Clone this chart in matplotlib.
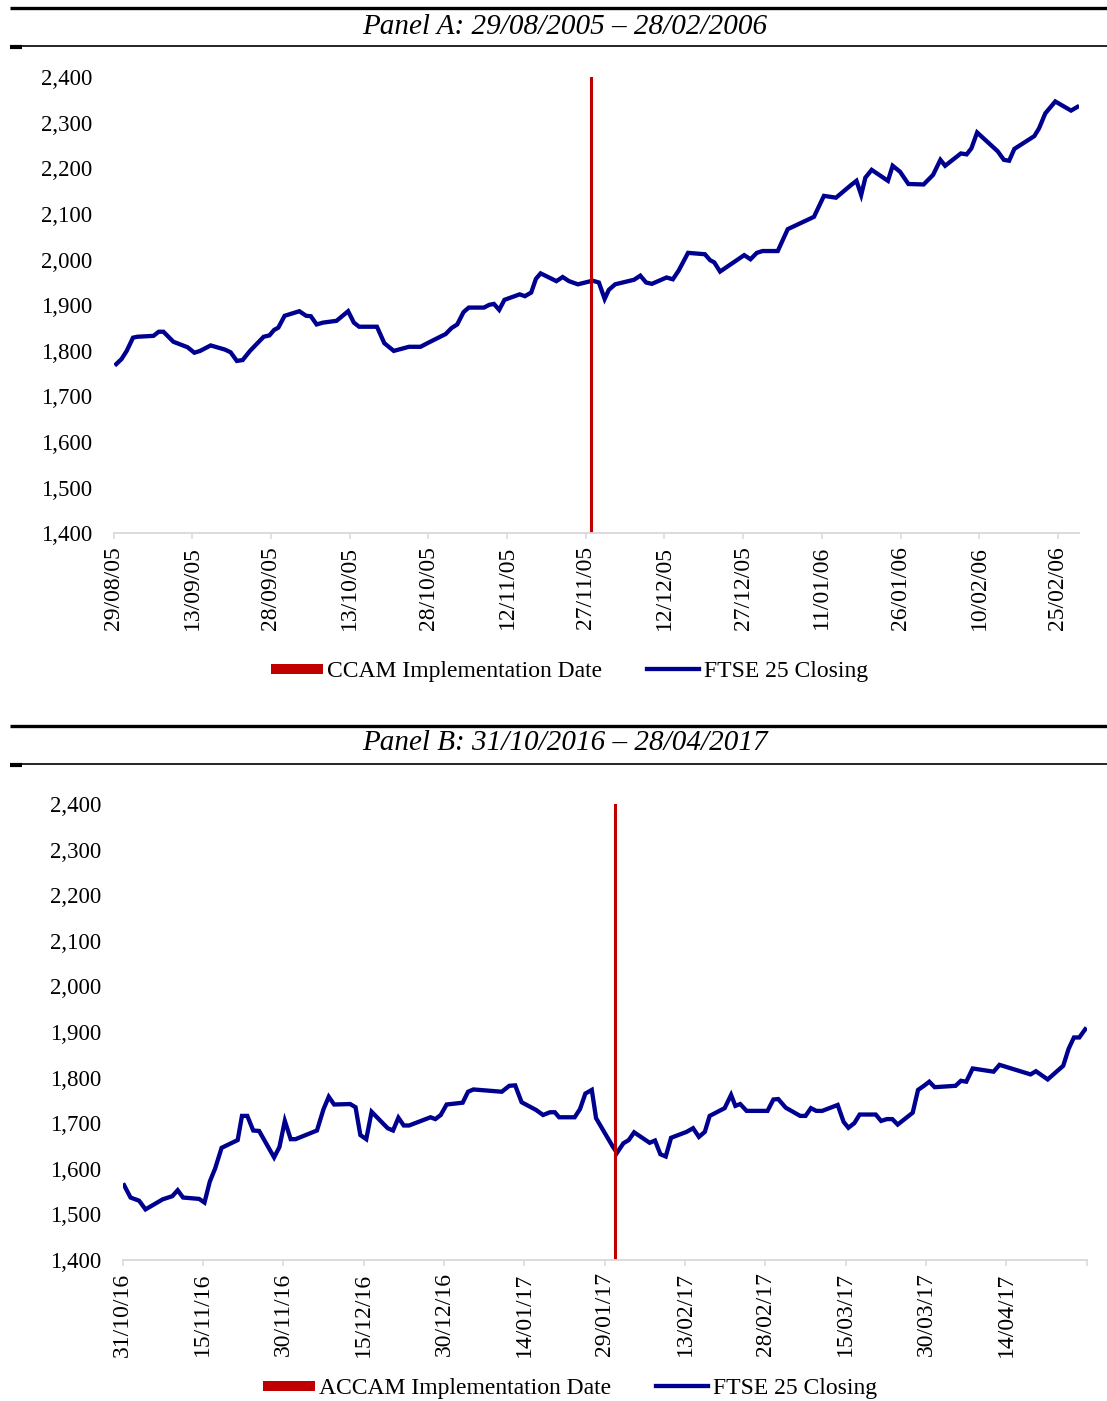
import matplotlib
matplotlib.use("Agg")
import matplotlib.pyplot as plt
import matplotlib.dates as mdates
from matplotlib.lines import Line2D
from matplotlib.ticker import FuncFormatter
import pandas as pd

plt.rcParams['font.family'] = ['Liberation Serif', 'DejaVu Serif']

# Panel A: days since 29/08/2005 and FTSE 25 closing values
start_a = '2005-08-29'
days_a = [0.5, 1.5, 2.5, 3.7, 4.5, 7.6, 8.6, 9.5, 11.4, 14.1, 15.4, 16.5, 18.5, 21.2,
          22.3, 23.5, 24.6, 26.0, 28.6, 29.7, 30.6, 31.4, 32.6, 35.4, 36.7, 37.6, 38.7,
          39.9, 42.5, 44.7, 45.8, 46.8, 50.2, 51.6, 53.4, 56.3, 58.5, 60.0, 63.3, 64.4,
          65.5, 66.7, 67.7, 70.6, 71.6, 72.5, 73.5, 74.5, 77.4, 78.4, 79.6, 80.5, 81.4,
          84.4, 85.6, 86.8, 88.5, 91.3, 92.5, 93.6, 94.4, 95.6, 99.2, 100.4, 101.5, 102.6,
          105.4, 106.6, 107.7, 109.5, 112.7, 113.7, 114.5, 115.6, 120.2, 121.4, 122.6,
          123.7, 126.6, 128.5, 133.5, 135.4, 137.7, 140.6, 141.6, 142.5, 143.3, 144.5,
          147.6, 148.5, 149.9, 151.5, 154.4, 156.2, 157.6, 158.5, 161.5, 162.6, 163.5,
          164.6, 168.5, 169.7, 170.7, 171.7, 175.5, 176.4, 177.6, 179.5, 182.5, 183.7]
close_a = [1771, 1782, 1800, 1829, 1831, 1833, 1842, 1842, 1820, 1808, 1796, 1800, 1812, 1803,
           1797, 1778, 1780, 1800, 1831, 1834, 1846, 1851, 1877, 1887, 1877, 1876, 1858,
           1862, 1866, 1887, 1862, 1853, 1853, 1817, 1800, 1809, 1809, 1818, 1837, 1850,
           1858, 1885, 1895, 1895, 1901, 1903, 1890, 1912, 1924, 1920, 1928, 1958, 1970,
           1953, 1962, 1953, 1946, 1954, 1950, 1914, 1934, 1946, 1956, 1965, 1950, 1947,
           1961, 1957, 1976, 2015, 2012, 1999, 1994, 1974, 2010, 2001, 2015,
           2019, 2019, 2067, 2094, 2140, 2136, 2164, 2173, 2142, 2180, 2197,
           2173, 2206, 2193, 2166, 2165, 2186, 2219, 2206, 2233, 2231, 2244,
           2279, 2238, 2219, 2217, 2243, 2271, 2288, 2321, 2347, 2327, 2335]
event_a = '2005-11-28'

# Panel B: days since 31/10/2016 and FTSE 25 closing values
start_b = '2016-10-31'
days_b = [0.3, 1.5, 3.1, 4.3, 7.5, 9.3, 10.3, 11.3, 14.3, 15.3, 16.3, 17.3, 18.5, 21.5,
          22.3, 23.3, 24.4, 25.5, 28.3, 29.3, 30.3, 31.4, 32.3, 36.3, 37.5, 38.5, 39.5,
          42.5, 43.5, 44.4, 45.5, 46.5, 49.5, 50.5, 51.5, 52.5, 53.5, 57.5, 58.4, 59.4,
          60.5, 63.5, 64.5, 65.5, 70.8, 72.2, 73.3, 74.5, 77.2, 78.5, 79.8, 80.7, 81.5,
          84.4, 85.4, 86.4, 87.6, 88.4, 91.5, 92.3, 93.5, 94.5, 95.5, 98.4, 99.4, 100.4,
          101.4, 102.4, 105.3, 106.5, 107.6, 108.7, 109.6, 112.4, 113.6, 114.4, 115.3,
          116.5, 120.4, 121.5, 122.4, 123.8, 126.5, 127.5, 128.5, 129.5, 130.6, 133.5,
          134.6, 135.5, 136.6, 137.6, 140.6, 141.6, 142.7, 143.7, 144.7, 147.5, 148.5,
          149.6, 150.6, 151.6, 155.5, 156.5, 157.5, 158.7, 162.6, 163.7, 169.5, 170.5,
          172.7, 175.6, 176.6, 177.6, 178.6, 179.7]
close_b = [1564, 1537, 1530, 1511, 1533, 1540, 1553, 1537, 1534, 1526, 1572, 1601, 1646, 1663,
           1716, 1716, 1684, 1683, 1625, 1648, 1705, 1665, 1665, 1684, 1730, 1758, 1741,
           1742, 1735, 1674, 1665, 1725, 1689, 1684, 1712, 1695, 1695, 1713, 1709, 1718,
           1741, 1745, 1769, 1774, 1769, 1782, 1783, 1746, 1729, 1718, 1724, 1724, 1713,
           1713, 1731, 1765, 1773, 1711, 1649, 1635, 1656, 1663, 1680, 1657, 1662, 1632,
           1627, 1668, 1681, 1689, 1670, 1681, 1716, 1733, 1762, 1738, 1742,
           1727, 1727, 1752, 1753, 1734, 1716, 1716, 1733, 1727, 1727, 1740,
           1703, 1690, 1700, 1719, 1719, 1705, 1709, 1709, 1697, 1723, 1773,
           1782, 1791, 1779, 1782, 1793, 1791, 1820, 1813, 1828, 1807, 1814,
           1796, 1826, 1863, 1888, 1888, 1906]
event_b = '2017-01-31'

panels = [
    dict(title='Panel A: 29/08/2005 \u2013 28/02/2006', start=start_a, days=days_a,
         close=close_a, event=event_a, span=184, nlab=13, ntick=13,
         label='CCAM Implementation Date'),
    dict(title='Panel B: 31/10/2016 \u2013 28/04/2017', start=start_b, days=days_b,
         close=close_b, event=event_b, span=180, nlab=12, ntick=13,
         label='ACCAM Implementation Date'),
]

W, H = 1107, 1401
fig = plt.figure(figsize=(W / 100, H / 100), dpi=100)

# axes boxes in pixels: left, right, y of 1400, y of 2400
boxes = [(113.6, 1078.9, 533.3, 77.3), (122.5, 1086.8, 1260.0, 804.0)]
title_y = [27, 743]
legend_y = [671, 1388]
legend_x = [569.5, 570]
rules = [(8, 46), (726, 764)]

red = '#C00000'
blue = '#000090'
grey = '#D9D9D9'


def hline(y, x0, x1, lw):
    fig.add_artist(Line2D([x0 / W, x1 / W], [1 - y / H, 1 - y / H], color='black',
                          lw=lw, transform=fig.transFigure, solid_capstyle='butt'))


for p, (l, r, yb, yt), ty, ly, lx, (r1, r2) in zip(panels, boxes, title_y, legend_y,
                                                     legend_x, rules):
    ax = fig.add_axes([l / W, 1 - yb / H, (r - l) / W, (yb - yt) / H])
    t0 = pd.Timestamp(p['start'])
    dates = t0 + pd.to_timedelta(p['days'], unit='D')
    ax.plot(dates, p['close'], color=blue, lw=3.1, solid_joinstyle='miter')
    ax.axvline(pd.Timestamp(p['event']), color=red, lw=2.2)

    ax.set_xlim(t0, t0 + pd.Timedelta(days=p['span']))
    ax.set_ylim(1400, 2400)
    ax.set_yticks(range(1400, 2401, 100))
    ax.yaxis.set_major_formatter(FuncFormatter(lambda v, pos: f'{int(v):,}'))
    ticks = pd.date_range(t0, periods=p['ntick'], freq='15D')
    labels = [d.strftime('%d/%m/%y') if i < p['nlab'] else ''
              for i, d in enumerate(ticks)]
    ax.set_xticks(ticks)
    ax.set_xticklabels(labels)

    for s in ['left', 'top', 'right']:
        ax.spines[s].set_visible(False)
    ax.spines['bottom'].set_color(grey)
    ax.spines['bottom'].set_linewidth(1.3)
    ax.tick_params(axis='y', length=0, pad=15.5, labelsize=16.5)
    ax.tick_params(axis='x', length=4, width=1.1, color=grey, pad=5, labelsize=17,
                   labelrotation=90, direction='out')

    fig.text(565 / W, 1 - ty / H, p['title'], ha='center', va='center',
             fontsize=21, style='italic')
    hline(r1, 10, W, 2.4)
    hline(r2, 10, W, 1.2)
    hline(r2 + 0.8, 10, 22, 3.0)

    handles = [Line2D([], [], color=red, lw=7.2, solid_capstyle='butt'),
               Line2D([], [], color=blue, lw=3.1)]
    fig.legend(handles, [p['label'], 'FTSE 25 Closing'], loc='center',
               bbox_to_anchor=(lx / W, 1 - ly / H), ncol=2, frameon=False,
               fontsize=17, handlelength=2.2, handletextpad=0.2, columnspacing=1.9)

fig.savefig('out.png', dpi=100)
